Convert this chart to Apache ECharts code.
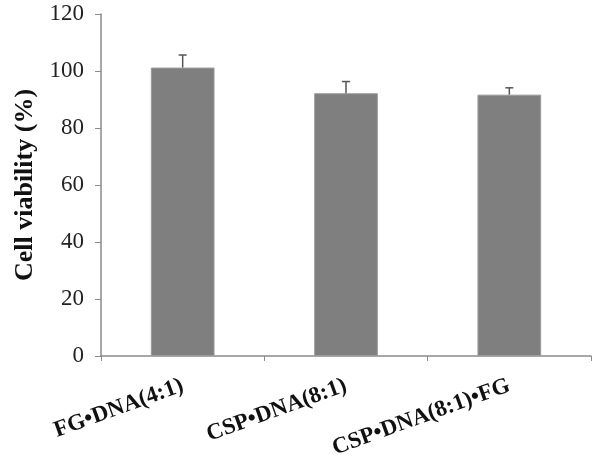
<!DOCTYPE html>
<html>
<head>
<meta charset="utf-8">
<script src="https://cdn.jsdelivr.net/npm/echarts@6/dist/echarts.min.js"></script>
<style>
  html, body { margin: 0; padding: 0; background: #fff; }
  #chart { width: 601px; height: 459px; }
</style>
</head>
<body>
<div id="chart"></div>
<script>
// samples and measured viability
var categories = ['FG•DNA(4:1)', 'CSP•DNA(8:1)', 'CSP•DNA(8:1)•FG'];
var viability = [101.2, 92.2, 91.7];
var errors = [4.4, 4.1, 2.4];
var yTicks = [0, 20, 40, 60, 80, 100, 120];

var chart = echarts.init(document.getElementById('chart'));

var errData = viability.map(function (v, i) {
    return [i, v, v + errors[i]];
});

var option = {
    animation: false,
    grid: {
        left: 101,
        right: 10,
        top: 14,
        bottom: 103,
        outerBoundsMode: 'none'
    },
    xAxis: {
        type: 'category',
        data: categories,
        axisLine: { lineStyle: { color: '#8a8a8a', width: 1.5 } },
        axisTick: { show: true, alignWithLabel: false, length: 5, lineStyle: { color: '#8a8a8a' } },
        axisLabel: {
            rotate: 20,
            margin: 29,
            color: '#111',
            fontFamily: 'Liberation Serif',
            fontWeight: 'bold',
            fontSize: 23,
            interval: 0
        }
    },
    yAxis: {
        type: 'value',
        min: yTicks[0],
        max: yTicks[yTicks.length - 1],
        interval: 20,
        name: 'Cell viability (%)',
        nameLocation: 'middle',
        nameGap: 63,
        nameTextStyle: {
            color: '#111',
            fontFamily: 'Liberation Serif',
            fontWeight: 'bold',
            fontSize: 26
        },
        splitLine: { show: false },
        axisLine: { show: true, lineStyle: { color: '#8a8a8a', width: 1.5 } },
        axisTick: { show: true, length: 6, lineStyle: { color: '#8a8a8a' } },
        axisLabel: {
            margin: 17,
            color: '#222',
            fontFamily: 'Liberation Serif',
            fontSize: 23
        }
    },
    series: [
        {
            type: 'bar',
            data: viability,
            barWidth: '39%',
            itemStyle: {
                color: '#7f7f7f',
                borderColor: '#9a9a9a',
                borderWidth: 1
            }
        },
        {
            type: 'custom',
            data: errData,
            z: 5,
            renderItem: function (params, api) {
                var x = api.value(0);
                var low = api.coord([x, api.value(1)]);
                var high = api.coord([x, api.value(2)]);
                var half = 4;
                var style = { stroke: '#555', lineWidth: 1.5 };
                return {
                    type: 'group',
                    children: [
                        { type: 'line', shape: { x1: low[0], y1: low[1], x2: high[0], y2: high[1] }, style: style },
                        { type: 'line', shape: { x1: high[0] - half, y1: high[1], x2: high[0] + half, y2: high[1] }, style: style }
                    ]
                };
            }
        }
    ]
};

chart.setOption(option);
</script>
</body>
</html>
